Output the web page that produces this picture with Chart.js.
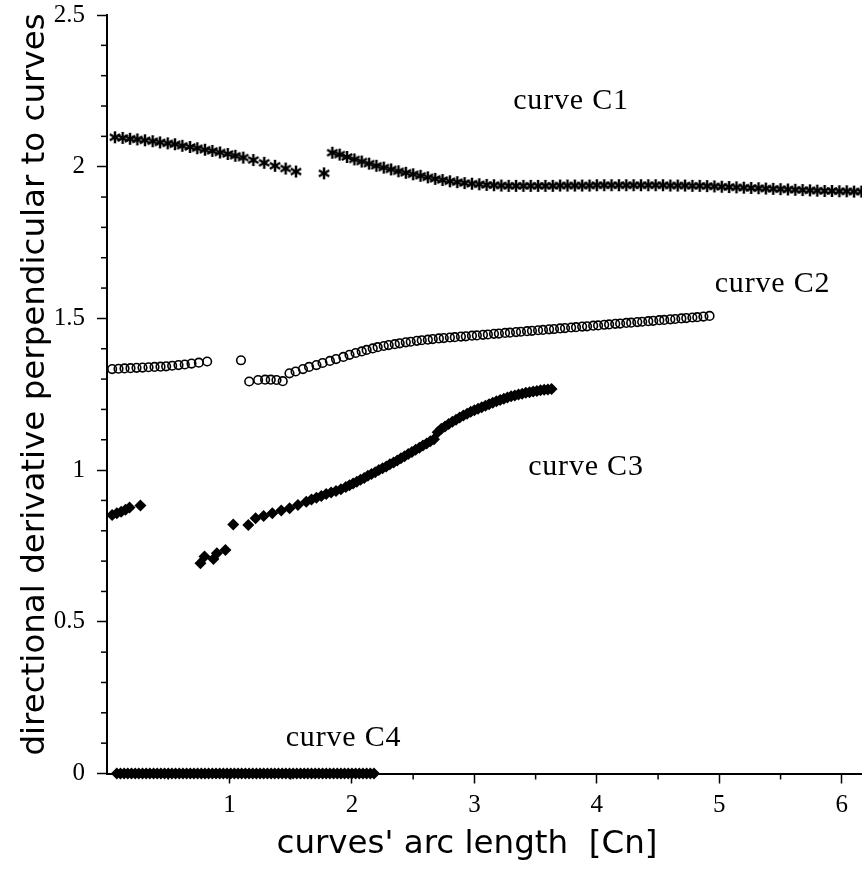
<!DOCTYPE html>
<html>
<head>
<meta charset="utf-8">
<script src="https://cdn.jsdelivr.net/npm/chart.js@4.4.1/dist/chart.umd.min.js"></script>
<style>
    html, body { margin: 0; padding: 0; background: #fff; }
    #wrap { width: 862px; height: 869px; }
</style>
</head>
<body>
<div id="wrap"><canvas id="chart" width="862" height="869"></canvas></div>
<script>
// curve C1 (asterisks)
const c1X = [0.065, 0.128, 0.188, 0.248, 0.310, 0.373, 0.433, 0.496, 0.555, 0.615, 0.678, 0.737, 0.800, 0.860, 0.923, 0.986, 1.048, 1.113, 1.195, 1.284, 1.372, 1.459, 1.543,
    1.772,
    1.84, 1.90, 1.96, 2.02, 2.08, 2.14, 2.20, 2.26, 2.32, 2.38,
    2.44, 2.50, 2.56, 2.62, 2.68, 2.74, 2.80, 2.86, 2.92, 2.98,
    3.04, 3.10, 3.16, 3.22, 3.28, 3.34, 3.40, 3.46, 3.52, 3.58,
    3.64, 3.70, 3.76, 3.82, 3.88, 3.94, 4.00, 4.06, 4.12, 4.18,
    4.24, 4.30, 4.36, 4.42, 4.48, 4.54, 4.60, 4.66, 4.72, 4.78,
    4.84, 4.90, 4.96, 5.02, 5.08, 5.14, 5.20, 5.26, 5.32, 5.38,
    5.44, 5.50, 5.56, 5.62, 5.68, 5.74, 5.80, 5.86, 5.92, 5.98,
    6.04, 6.10, 6.16];
const c1Y = [2.097, 2.095, 2.092, 2.090, 2.087, 2.084, 2.080, 2.077, 2.074, 2.069, 2.065, 2.061, 2.056, 2.052, 2.047, 2.042, 2.036, 2.030, 2.022, 2.013, 2.003, 1.994, 1.984,
    1.978,
    2.046, 2.040, 2.032, 2.024, 2.017, 2.010, 2.003, 1.997, 1.991, 1.985,
    1.980, 1.975, 1.970, 1.965, 1.960, 1.956, 1.952, 1.949, 1.946, 1.944,
    1.942, 1.940, 1.939, 1.938, 1.937, 1.937, 1.937, 1.937, 1.937, 1.937,
    1.937, 1.938, 1.938, 1.938, 1.938, 1.938, 1.939, 1.939, 1.939, 1.939,
    1.939, 1.939, 1.939, 1.939, 1.939, 1.939, 1.938, 1.938, 1.938, 1.937,
    1.937, 1.936, 1.935, 1.934, 1.933, 1.932, 1.931, 1.930, 1.929, 1.928,
    1.927, 1.926, 1.925, 1.924, 1.923, 1.922, 1.921, 1.920, 1.920, 1.919,
    1.919, 1.918, 1.918];

// curve C2 (open circles)
const c2X = [0.042, 0.094, 0.143, 0.192, 0.241, 0.290, 0.339, 0.388, 0.437, 0.483, 0.532, 0.584, 0.635, 0.690, 0.750, 0.818,
    1.094,
    1.161, 1.234, 1.291, 1.337, 1.384, 1.435,
    1.49, 1.54, 1.60, 1.65, 1.71, 1.76, 1.82, 1.87, 1.93, 1.98, 2.03,
    2.08, 2.12, 2.17, 2.21, 2.26, 2.30, 2.35, 2.39, 2.44, 2.48,
    2.53, 2.57, 2.62, 2.66, 2.71, 2.75, 2.80, 2.84, 2.89, 2.93,
    2.98, 3.02, 3.07, 3.11, 3.16, 3.20, 3.25, 3.29, 3.34, 3.38,
    3.43, 3.47, 3.52, 3.56, 3.61, 3.65, 3.70, 3.74, 3.79, 3.83,
    3.88, 3.92, 3.97, 4.01, 4.06, 4.10, 4.15, 4.19, 4.24, 4.28,
    4.33, 4.37, 4.42, 4.46, 4.51, 4.55, 4.60, 4.64, 4.69, 4.73,
    4.78, 4.82, 4.87, 4.92];
const c2Y = [1.333, 1.334, 1.335, 1.336, 1.337, 1.338, 1.339, 1.340, 1.341, 1.342, 1.344, 1.346, 1.348, 1.351, 1.354, 1.358,
    1.362,
    1.292, 1.297, 1.298, 1.298, 1.297, 1.293,
    1.319, 1.325, 1.333, 1.340, 1.346, 1.353, 1.360, 1.366, 1.373, 1.380, 1.386,
    1.391, 1.396, 1.401, 1.405, 1.409, 1.412, 1.415, 1.418, 1.421, 1.423,
    1.426, 1.428, 1.430, 1.432, 1.434, 1.435, 1.437, 1.438, 1.440, 1.441,
    1.443, 1.444, 1.446, 1.447, 1.449, 1.450, 1.452, 1.453, 1.455, 1.456,
    1.458, 1.459, 1.461, 1.462, 1.464, 1.465, 1.467, 1.468, 1.470, 1.471,
    1.473, 1.474, 1.476, 1.477, 1.479, 1.480, 1.482, 1.483, 1.485, 1.486,
    1.488, 1.489, 1.491, 1.492, 1.494, 1.495, 1.497, 1.498, 1.500, 1.501,
    1.503, 1.504, 1.506, 1.508];

// curve C3 (filled diamonds)
const c3X = [0.042, 0.080, 0.116, 0.151, 0.184, 0.273,
    0.763, 0.796, 0.869, 0.897, 0.967,
    1.031,
    1.154, 1.213, 1.279, 1.350, 1.423, 1.491, 1.559, 1.627,
    1.67, 1.71, 1.75, 1.79, 1.83, 1.87, 1.91, 1.95,
    1.98, 2.01, 2.04, 2.07, 2.10, 2.13, 2.16, 2.19, 2.22, 2.25,
    2.28, 2.31, 2.34, 2.37, 2.40, 2.43, 2.46, 2.49, 2.52, 2.55,
    2.58, 2.61, 2.64, 2.67, 2.70, 2.73, 2.76, 2.79, 2.82, 2.85,
    2.88, 2.91, 2.94, 2.97, 3.00, 3.03, 3.06, 3.09, 3.12, 3.15,
    3.18, 3.21, 3.24, 3.27, 3.30, 3.33, 3.36, 3.39, 3.42, 3.45,
    3.48, 3.51, 3.54, 3.57, 3.60, 3.63];
const c3Y = [0.852, 0.858, 0.863, 0.869, 0.877, 0.883,
    0.693, 0.715, 0.707, 0.726, 0.737,
    0.821,
    0.819, 0.841, 0.849, 0.858, 0.867, 0.874, 0.885, 0.896,
    0.903, 0.909, 0.915, 0.921, 0.926, 0.931, 0.937, 0.944,
    0.950, 0.956, 0.962, 0.968, 0.974, 0.981, 0.987, 0.993, 1.000, 1.006,
    1.012, 1.019, 1.025, 1.032, 1.039, 1.046, 1.053, 1.060, 1.067, 1.074,
    1.081, 1.088, 1.095, 1.102, 1.125, 1.136, 1.144, 1.152, 1.159, 1.166,
    1.173, 1.180, 1.186, 1.192, 1.197, 1.202, 1.207, 1.212, 1.217, 1.222,
    1.227, 1.231, 1.235, 1.239, 1.243, 1.246, 1.249, 1.252, 1.255, 1.257,
    1.259, 1.261, 1.263, 1.265, 1.266, 1.267];

// curve C4 (filled diamonds on zero)
const c4X = [0.08, 0.11, 0.14, 0.17, 0.20, 0.23, 0.26, 0.29, 0.32, 0.35,
    0.38, 0.41, 0.44, 0.47, 0.50, 0.53, 0.56, 0.59, 0.62, 0.65,
    0.68, 0.71, 0.74, 0.77, 0.80, 0.83, 0.86, 0.89, 0.92, 0.95,
    0.98, 1.01, 1.04, 1.07, 1.10, 1.13, 1.16, 1.19, 1.22, 1.25,
    1.28, 1.31, 1.34, 1.37, 1.40, 1.43, 1.46, 1.49, 1.52, 1.55,
    1.58, 1.61, 1.64, 1.67, 1.70, 1.73, 1.76, 1.79, 1.82, 1.85,
    1.88, 1.91, 1.94, 1.97, 2.00, 2.03, 2.06, 2.09, 2.12, 2.15,
    2.18];
const c4Y = [0, 0, 0, 0, 0, 0, 0, 0, 0, 0,
    0, 0, 0, 0, 0, 0, 0, 0, 0, 0,
    0, 0, 0, 0, 0, 0, 0, 0, 0, 0,
    0, 0, 0, 0, 0, 0, 0, 0, 0, 0,
    0, 0, 0, 0, 0, 0, 0, 0, 0, 0,
    0, 0, 0, 0, 0, 0, 0, 0, 0, 0,
    0, 0, 0, 0, 0, 0, 0, 0, 0, 0,
    0];

// ticks
const xTicks = [1, 2, 3, 4, 5, 6];
const xMinorTicks = [0.5, 1.5, 2.5, 3.5, 4.5, 5.5];
const yTicks = [0, 0.5, 1, 1.5, 2, 2.5];
const yTickLabels = ['0', '0.5', '1', '1.5', '2', '2.5'];
const yMinorTicks = [0.1, 0.2, 0.3, 0.4, 0.6, 0.7, 0.8, 0.9, 1.1, 1.2, 1.3, 1.4,
    1.6, 1.7, 1.8, 1.9, 2.1, 2.2, 2.3, 2.4];

// texts
const curveLabels = ['curve C1', 'curve C2', 'curve C3', 'curve C4'];
const curveLabelX = [3.789, 5.434, 3.911, 1.931];
const curveLabelY = [2.190, 1.587, 0.984, 0.091];
const xTitle = "curves' arc length  [Cn]";
const yTitle = 'directional derivative perpendicular to curves';

const toPoints = (xs, ys) => xs.map((v, i) => ({ x: v, y: ys[i] }));

// six-armed asterisk marker
function makeAsterisk(size, lw) {
    const c = document.createElement('canvas');
    c.width = size;
    c.height = size;
    const g = c.getContext('2d');
    g.strokeStyle = '#000';
    g.lineWidth = lw;
    const r = size / 2 - 1;
    for (let k = 0; k < 3; k++) {
        const a = Math.PI / 2 + k * Math.PI / 3;
        g.beginPath();
        g.moveTo(size / 2 + r * Math.cos(a), size / 2 + r * Math.sin(a));
        g.lineTo(size / 2 - r * Math.cos(a), size / 2 - r * Math.sin(a));
        g.stroke();
    }
    return c;
}
const asterisk = makeAsterisk(14, 2.5);

const decorations = {
    id: 'decorations',
    afterDraw(chart) {
        const { ctx, scales: { x, y } } = chart;
        ctx.save();
        ctx.strokeStyle = '#000';
        ctx.lineWidth = 1.5;
        yMinorTicks.forEach(v => {
            const py = y.getPixelForValue(v);
            ctx.beginPath();
            ctx.moveTo(x.left - 6, py);
            ctx.lineTo(x.left, py);
            ctx.stroke();
        });
        xMinorTicks.forEach(v => {
            const px = x.getPixelForValue(v);
            ctx.beginPath();
            ctx.moveTo(px, y.bottom);
            ctx.lineTo(px, y.bottom + 6);
            ctx.stroke();
        });

        ctx.fillStyle = '#000';
        ctx.font = '30px "Liberation Serif"';
        ctx.letterSpacing = '0.8px';
        ctx.textAlign = 'center';
        ctx.textBaseline = 'alphabetic';
        curveLabels.forEach((t, i) => {
            ctx.fillText(t, x.getPixelForValue(curveLabelX[i]), y.getPixelForValue(curveLabelY[i]));
        });

        ctx.letterSpacing = '0px';
        ctx.font = '32.5px "DejaVu Sans"';
        ctx.fillText(xTitle, 467, 853);
        ctx.translate(44, 384.5);
        ctx.rotate(-Math.PI / 2);
        ctx.fillText(yTitle, 0, 0);
        ctx.restore();
    }
};

const tickFont = { family: 'Liberation Serif', size: 25 };

new Chart(document.getElementById('chart'), {
    type: 'scatter',
    data: {
        datasets: [{
            data: toPoints(c1X, c1Y),
            pointStyle: asterisk,
            pointRadius: 7,
            clip: false
        }, {
            data: toPoints(c2X, c2Y),
            pointStyle: 'circle',
            pointRadius: 4.3,
            borderWidth: 1.6,
            borderColor: '#000',
            backgroundColor: 'rgba(0,0,0,0)',
            clip: false
        }, {
            data: toPoints(c3X, c3Y),
            pointStyle: 'rectRot',
            pointRadius: 6,
            borderWidth: 0,
            borderColor: '#000',
            backgroundColor: '#000',
            clip: false
        }, {
            data: toPoints(c4X, c4Y),
            pointStyle: 'rectRot',
            pointRadius: 6,
            borderWidth: 0,
            borderColor: '#000',
            backgroundColor: '#000',
            clip: false
        }]
    },
    options: {
        responsive: false,
        devicePixelRatio: 1,
        animation: false,
        layout: { autoPadding: false, padding: { top: 15, right: 0, bottom: 0, left: 0 } },
        plugins: {
            legend: { display: false },
            tooltip: { enabled: false }
        },
        scales: {
            x: {
                type: 'linear',
                min: 0,
                max: 6.165,
                afterFit: s => { s.height = 95.5; },
                afterBuildTicks: s => { s.ticks = xTicks.map(v => ({ value: v })); },
                grid: { drawOnChartArea: false, drawTicks: true, tickLength: 10, tickWidth: 1.5, tickColor: '#000' },
                border: { display: true, color: '#000', width: 2 },
                ticks: {
                    autoSkip: false,
                    maxRotation: 0,
                    padding: 7,
                    color: '#000',
                    font: tickFont,
                    callback: (v, i) => String(xTicks[i])
                }
            },
            y: {
                type: 'linear',
                min: 0,
                max: 2.5,
                afterFit: s => {
                    s.width = 107;
                    s.paddingTop = 15;
                    s.paddingBottom = 15;
                },
                afterBuildTicks: s => { s.ticks = yTicks.map(v => ({ value: v })); },
                grid: { drawOnChartArea: false, drawTicks: true, tickLength: 10, tickWidth: 1.5, tickColor: '#000' },
                border: { display: true, color: '#000', width: 2 },
                ticks: {
                    autoSkip: false,
                    padding: 12,
                    color: '#000',
                    font: tickFont,
                    callback: (v, i) => yTickLabels[i]
                }
            }
        }
    },
    plugins: [decorations]
});
</script>
</body>
</html>
